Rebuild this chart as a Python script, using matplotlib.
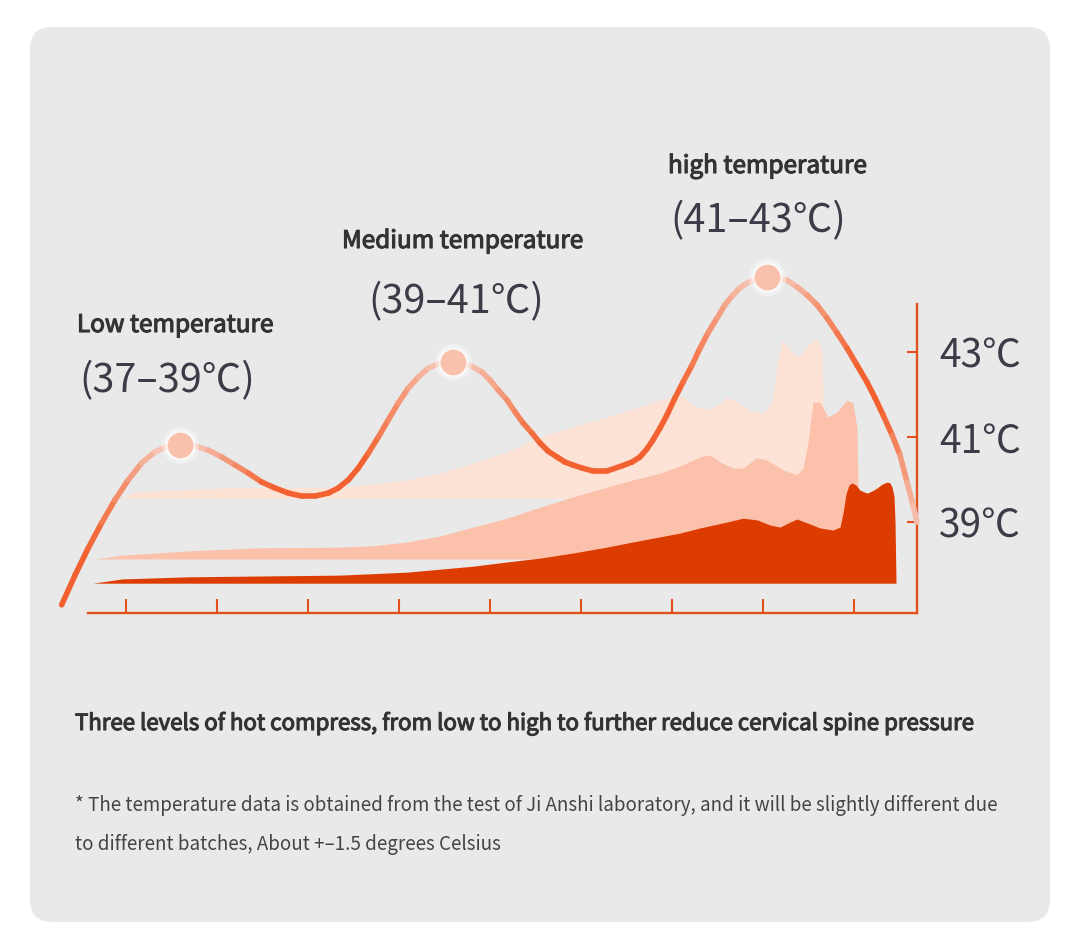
import numpy as np
import matplotlib.pyplot as plt
import matplotlib.patheffects as pe
from matplotlib.collections import LineCollection
from matplotlib.patches import FancyBboxPatch
from matplotlib.transforms import IdentityTransform
from matplotlib.colors import to_rgb

plt.rcParams['font.family'] = ['Noto Sans CJK SC', 'DejaVu Sans']

# =========================
# Data (x = tick index, y = temperature in C)
# =========================
curve_x = [-0.707, -0.560, -0.414, -0.267, -0.121, 0.025, 0.173, 0.319, 0.465, 0.593,
           0.758, 0.904, 1.052, 1.198, 1.344, 1.491, 1.637, 1.784, 1.931, 2.077,
           2.223, 2.333, 2.443, 2.553, 2.663, 2.773, 2.882, 2.992, 3.102, 3.212,
           3.322, 3.432, 3.597, 3.703, 3.813, 3.912, 4.000, 4.088, 4.187, 4.275,
           4.363, 4.462, 4.549, 4.637, 4.736, 4.824, 4.912, 5.011, 5.132, 5.286,
           5.462, 5.560, 5.648, 5.725, 5.791, 5.868, 5.945, 6.033, 6.121, 6.220,
           6.308, 6.396, 6.495, 6.582, 6.670, 6.747, 6.824, 6.934, 7.044, 7.154,
           7.264, 7.374, 7.484, 7.593, 7.703, 7.813, 7.923, 8.033, 8.143, 8.231,
           8.319, 8.418, 8.505, 8.582, 8.648, 8.692]
curve_y = [37.05, 37.75, 38.39, 38.98, 39.52, 39.99, 40.39, 40.65, 40.79, 40.81,
           40.79, 40.69, 40.53, 40.34, 40.15, 39.94, 39.80, 39.68, 39.61, 39.61,
           39.68, 39.80, 39.99, 40.27, 40.62, 41.00, 41.40, 41.80, 42.15, 42.41,
           42.62, 42.72, 42.76, 42.74, 42.65, 42.53, 42.34, 42.11, 41.87, 41.59,
           41.33, 41.09, 40.86, 40.67, 40.53, 40.41, 40.34, 40.27, 40.20, 40.20,
           40.33, 40.41, 40.53, 40.72, 40.93, 41.21, 41.52, 41.92, 42.29, 42.69,
           43.09, 43.45, 43.80, 44.11, 44.34, 44.51, 44.62, 44.72, 44.76, 44.74,
           44.69, 44.53, 44.34, 44.11, 43.80, 43.45, 43.09, 42.69, 42.29, 41.92,
           41.52, 41.05, 40.58, 39.94, 39.40, 39.00]

peak_x = [0.593, 3.597, 7.044]
peak_y = [40.81, 42.76, 44.76]

# light layer (back)
low_x = [-0.066, 0.099, 0.319, 1.055, 1.692, 2.352, 2.714, 3.088, 3.451, 3.813,
         4.187, 4.549, 4.912, 5.286, 5.648, 5.868, 6.088, 6.231, 6.385, 6.495,
         6.604, 6.714, 6.857, 7.000, 7.099, 7.154, 7.209, 7.297, 7.385, 7.495,
         7.593, 7.648, 7.659, 7.659]
low_top = [39.56, 39.71, 39.73, 39.80, 39.81, 39.82, 39.89, 39.99, 40.15, 40.39,
           40.65, 41.00, 41.24, 41.47, 41.71, 41.87, 41.99, 41.75, 41.64, 41.75,
           41.94, 41.82, 41.64, 41.56, 41.82, 42.69, 43.28, 43.05, 42.88, 43.16,
           43.33, 43.00, 42.15, 39.56]
low_base = 39.56

# middle layer
mid_x = [-0.341, -0.044, 0.681, 1.418, 1.912, 2.352, 2.714, 3.088, 3.451, 3.813,
         4.187, 4.549, 4.912, 5.286, 5.571, 5.868, 6.088, 6.308, 6.418, 6.527,
         6.670, 6.780, 6.934, 7.044, 7.220, 7.374, 7.440, 7.495, 7.549, 7.626,
         7.714, 7.813, 7.923, 7.989, 8.033, 8.044, 8.044]
mid_top = [38.13, 38.22, 38.32, 38.39, 38.40, 38.41, 38.44, 38.53, 38.67, 38.88,
           39.09, 39.35, 39.59, 39.82, 39.99, 40.15, 40.32, 40.53, 40.58, 40.41,
           40.27, 40.27, 40.51, 40.46, 40.22, 40.11, 40.27, 40.88, 41.82, 41.82,
           41.47, 41.59, 41.87, 41.80, 41.21, 39.80, 38.13]
mid_base = 38.13

# dark layer (front)
high_x = [-0.363, -0.044, 0.681, 1.500, 2.352, 3.088, 3.451, 3.813, 4.187, 4.549,
          4.912, 5.286, 5.571, 5.868, 6.088, 6.308, 6.604, 6.780, 6.934, 7.077,
          7.187, 7.297, 7.374, 7.484, 7.626, 7.769, 7.846, 7.879, 7.912, 7.945,
          7.978, 8.022, 8.066, 8.143, 8.198, 8.253, 8.308, 8.363, 8.396, 8.418,
          8.440, 8.451, 8.462]
high_top = [37.56, 37.66, 37.71, 37.73, 37.75, 37.82, 37.89, 37.96, 38.06, 38.15,
            38.27, 38.41, 38.53, 38.65, 38.74, 38.86, 39.00, 39.09, 39.05, 38.93,
            38.88, 39.00, 39.07, 38.98, 38.86, 38.81, 38.88, 39.21, 39.66, 39.87,
            39.92, 39.87, 39.75, 39.68, 39.73, 39.80, 39.89, 39.94, 39.92, 39.82,
            39.60, 39.00, 37.56]
high_base = 37.56

temp_ticks = [39, 41, 43]
temp_labels = ['39℃', '41℃', '43℃']

labels = ['Low temperature', 'Medium temperature', 'high temperature']
ranges = ['(37–39℃)', '(39–41℃)', '(41–43℃)']

AXIS = '#e2501c'
STRONG = '#f2612f'
LIGHT = '#f6c3b2'
TXT = '#333333'
NUM = '#3c3c48'

W, H = 1080, 951


def px(x, y):
    return x / W, 1 - y / H


def medium(c):
    # regular weight thickened a bit to look like a medium weight
    return [pe.withStroke(linewidth=0.8, foreground=c)]


fig = plt.figure(figsize=(W / 100, H / 100), dpi=100)
fig.patch.set_facecolor('white')

# rounded grey panel
panel = FancyBboxPatch((30, H - 922), 1020, 895,
                       boxstyle='round,pad=0,rounding_size=22',
                       transform=IdentityTransform(),
                       facecolor='#e9e9e9', edgecolor='none', zorder=-5)
fig.patches.append(panel)

ax = fig.add_axes([53.2 / W, 1 - 624 / H, 873.6 / W, 365.5 / H])
ax.patch.set_alpha(0)
ax.set_xlim(-0.8, 8.8)
ax.set_ylim(36.6, 45.2)

# =========================
# Fills
# =========================
ax.fill_between(low_x, low_base, low_top, color='#fde2d6', lw=0, zorder=1)
ax.fill_between(mid_x, mid_base, mid_top, color='#fbc1ab', lw=0, zorder=2)
ax.fill_between(high_x, high_base, high_top, color='#dc3c00', lw=0, zorder=3)

# =========================
# Curve with tone shading
# =========================
pts = np.column_stack([curve_x, curve_y])
segs = np.stack([pts[:-1], pts[1:]], axis=1)
mid = (pts[:-1, 0] + pts[1:, 0]) / 2
dist = np.min(np.abs(mid[:, None] - np.array(peak_x)[None, :]), axis=1)
tone = np.clip((dist - 0.2) / 0.8, 0, 1)
fade = np.clip((8.69 - mid) / 0.35, 0, 1)
tone = tone * fade
c_s, c_l = np.array(to_rgb(STRONG)), np.array(to_rgb(LIGHT))
cols = [tuple(c_l + (c_s - c_l) * t) for t in tone]
lc = LineCollection(segs, colors=cols, linewidths=4.0, capstyle='round',
                    joinstyle='round', zorder=4, clip_on=False)
ax.add_collection(lc)

# peak markers with glow
ax.scatter(peak_x, peak_y, s=720, color='white', alpha=0.35, lw=0, zorder=5, clip_on=False)
ax.scatter(peak_x, peak_y, s=500, color='white', alpha=0.6, lw=0, zorder=5, clip_on=False)
ax.scatter(peak_x, peak_y, s=340, color='#f9c0ab', lw=0, zorder=6, clip_on=False)

# =========================
# Axes
# =========================
for s in ['top', 'left']:
    ax.spines[s].set_visible(False)
ax.spines['bottom'].set_position(('data', 36.85))
ax.spines['bottom'].set_bounds(-0.42, 8.69)
ax.spines['right'].set_position(('data', 8.69))
ax.spines['right'].set_bounds(36.85, 44.13)
for s in ['bottom', 'right']:
    ax.spines[s].set_color(AXIS)
    ax.spines[s].set_linewidth(1.7)

ax.set_xticks(range(9))
ax.tick_params(axis='x', direction='in', length=10, width=1.5, color=AXIS,
               labelbottom=False)
ax.yaxis.tick_right()
ax.set_yticks(temp_ticks)
ax.set_yticklabels(temp_labels)
ax.tick_params(axis='y', direction='in', length=7, width=1.5, color=AXIS,
               pad=16, labelsize=28, labelcolor=NUM)

# =========================
# Texts
# =========================
head_pos = [(77, 332), (342, 248), (668, 173)]
range_pos = [(79, 392), (368, 313), (670, 232)]
for lab, rng, hp, rp in zip(labels, ranges, head_pos, range_pos):
    fig.text(*px(*hp), lab, fontsize=17.5, color=TXT, ha='left', va='baseline',
             path_effects=medium(TXT))
    fig.text(*px(*rp), rng, fontsize=28.5, color=NUM, ha='left', va='baseline')

fig.text(*px(75, 730),
         'Three levels of hot compress, from low to high to further reduce cervical spine pressure',
         fontsize=16, color=TXT, ha='left', va='baseline', path_effects=medium(TXT))
fig.text(*px(75, 811),
         '* The temperature data is obtained from the test of Ji Anshi laboratory, and it will be slightly different due',
         fontsize=13.5, color='#444444', ha='left', va='baseline')
fig.text(*px(75, 850),
         'to different batches, About +–1.5 degrees Celsius',
         fontsize=13.5, color='#444444', ha='left', va='baseline')

fig.savefig('out.png', dpi=100, facecolor=fig.get_facecolor())
